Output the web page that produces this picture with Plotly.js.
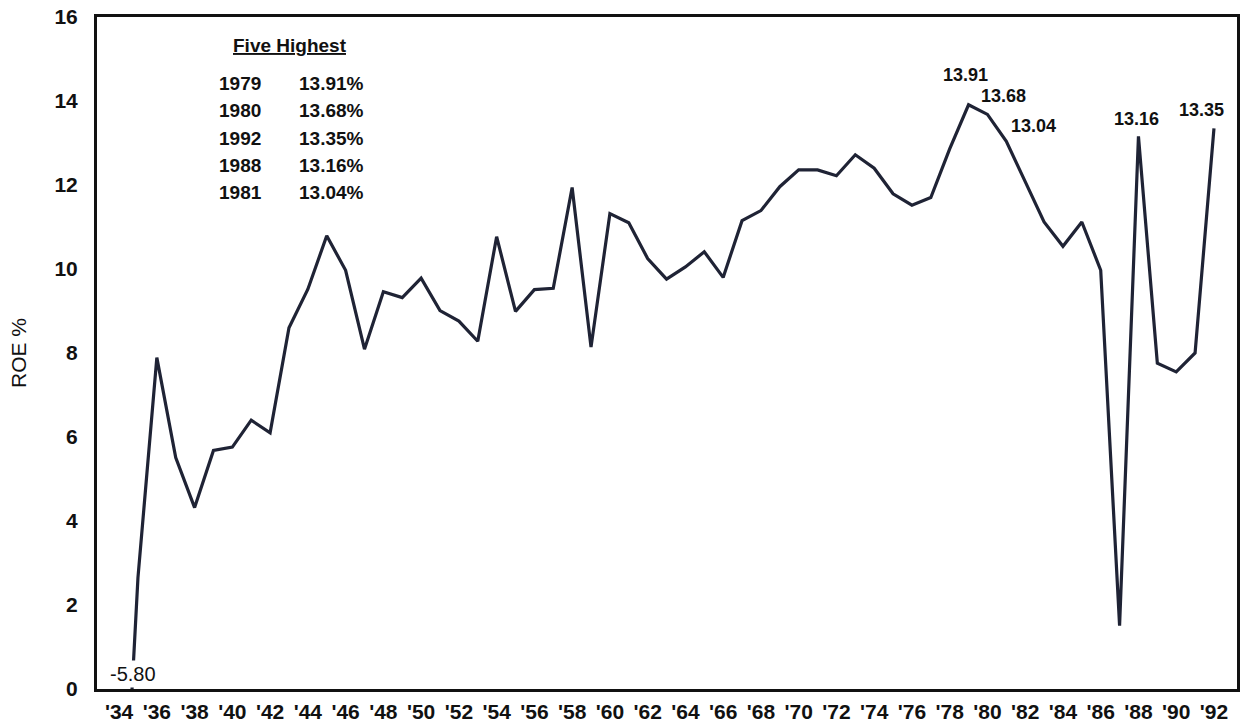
<!DOCTYPE html>
<html>
<head>
<meta charset="utf-8">
<script src="https://cdn.plot.ly/plotly-3.0.1.min.js"></script>
<style>html,body{margin:0;padding:0;background:#fff}#chart{width:1247px;height:727px}</style>
</head>
<body>
<div id="chart"></div>
<script>
const years = [];
for (let y = 1934; y <= 1992; y++) years.push(y);
const roe = [-5.80, 2.65, 7.89, 5.51, 4.32, 5.68, 5.76, 6.40, 6.10, 8.60,
  9.52, 10.79, 9.97, 8.09, 9.46, 9.32, 9.78, 9.01, 8.76, 8.28,
  10.77, 8.99, 9.51, 9.54, 11.94, 8.14, 11.32, 11.10, 10.25, 9.76,
  10.05, 10.41, 9.80, 11.15, 11.39, 11.96, 12.36, 12.36, 12.22, 12.72,
  12.40, 11.79, 11.52, 11.70, 12.86, 13.91, 13.68, 13.04, 12.08, 11.12,
  10.54, 11.12, 9.97, 1.51, 13.16, 7.76, 7.55, 8.00, 13.35];
const tickYears = [];
for (let y = 1934; y <= 1992; y += 2) tickYears.push(y);
const tickLabels = tickYears.map(y => "'" + String(y).slice(2));
const yTicks = [0, 2, 4, 6, 8, 10, 12, 14, 16];
const topYears = [1979, 1980, 1992, 1988, 1981];
const topValues = ["13.91%", "13.68%", "13.35%", "13.16%", "13.04%"];
const labelYears = [1934, 1979, 1980, 1981, 1988, 1992];
const labelTexts = ["-5.80", "13.91", "13.68", "13.04", "13.16", "13.35"];

const F = 'Liberation Sans, Arial, sans-serif';
const INK = '#111';
const L = 97, R = 10, T = 17, B = 38, W = 1247, H = 727;
const pw = W - L - R, ph = H - T - B;
const px2paper = (px, py) => [(px - L) / pw, 1 - (py - T) / ph];

const labelShift = {1934: [14, 1], 1979: [-3, 30], 1980: [16, 18], 1981: [27, 15], 1988: [-2, 17], 1992: [-12, 18]};

const annotations = [];
labelYears.forEach((yr, i) => {
  const idx = years.indexOf(yr);
  const first = yr === 1934;
  annotations.push({
    x: yr, y: first ? 0 : roe[idx], xref: 'x', yref: 'y',
    text: labelTexts[i], showarrow: false,
    yanchor: first ? 'bottom' : 'middle',
    xshift: labelShift[yr][0], yshift: labelShift[yr][1],
    font: {family: F, size: first ? 20 : 18, color: INK, weight: first ? 'normal' : 'bold'},
    bgcolor: first ? '#ffffff' : 'rgba(0,0,0,0)', borderpad: first ? 2 : 0
  });
});

function addPx(text, px, py, opts) {
  const p = px2paper(px, py);
  annotations.push(Object.assign({
    x: p[0], y: p[1], xref: 'paper', yref: 'paper', text: text, showarrow: false,
    xanchor: 'center', yanchor: 'middle',
    font: {family: F, size: 19, color: INK, weight: 'bold'}
  }, opts || {}));
}
addPx('<u>Five Highest</u>', 290, 46);
topYears.forEach((yr, i) => {
  addPx(String(yr), 240, 84 + i * 27);
  addPx(topValues[i], 331, 84 + i * 27);
});

const trace = {
  x: years, y: roe, type: 'scatter', mode: 'lines',
  line: {color: '#1f2335', width: 3.2},
  hoverinfo: 'x+y'
};

const layout = {
  width: W, height: H,
  margin: {l: L, r: R, t: T, b: B},
  paper_bgcolor: '#fff', plot_bgcolor: '#fff',
  showlegend: false,
  xaxis: {
    range: [1932.83, 1993.22], tickvals: tickYears, ticktext: tickLabels,
    showgrid: false, zeroline: false, ticks: '', showline: true, mirror: true,
    linecolor: INK, linewidth: 3, ticklabelstandoff: 2,
    tickfont: {family: F, size: 21, color: INK, weight: 'bold'}, tickangle: 0
  },
  yaxis: {
    range: [0, 16], tickvals: yTicks,
    showgrid: false, zeroline: false, ticks: '', showline: true, mirror: true,
    linecolor: INK, linewidth: 3, ticklabelstandoff: 12,
    tickfont: {family: F, size: 21, color: INK, weight: 'bold'},
    title: {text: 'ROE %', font: {family: F, size: 21, color: INK}, standoff: 23}
  },
  annotations: annotations
};

Plotly.newPlot('chart', [trace], layout, {displayModeBar: false, staticPlot: true});
</script>
</body>
</html>
